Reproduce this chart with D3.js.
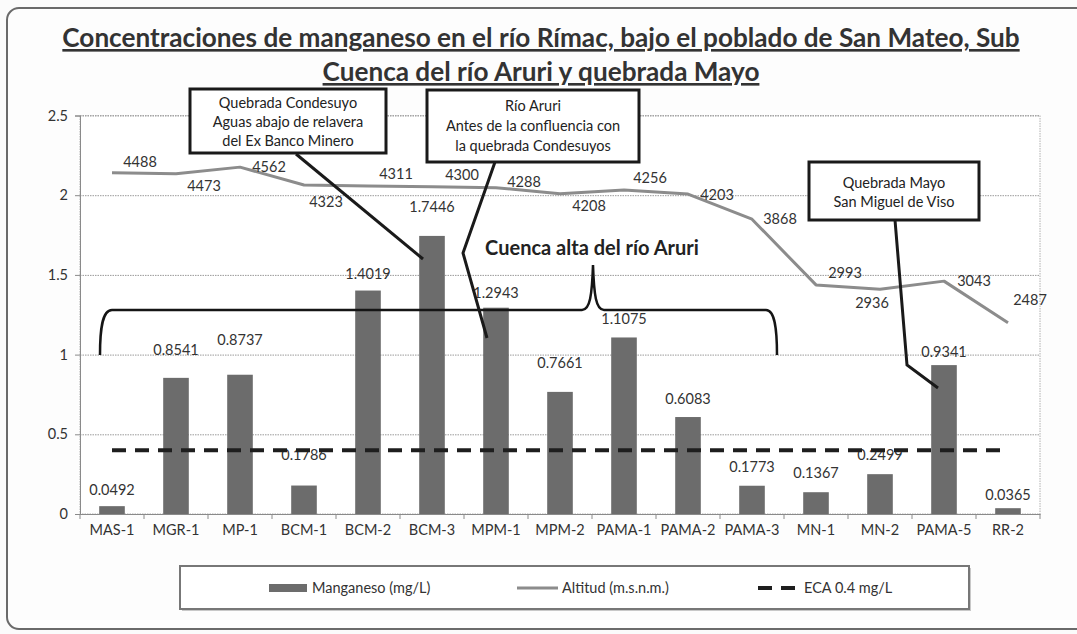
<!DOCTYPE html>
<html><head><meta charset="utf-8">
<script src="https://cdn.jsdelivr.net/npm/d3@7"></script>
<style>
html,body{margin:0;padding:0;background:#fbfbfb;}
svg{display:block;font-family:Lato,"Noto Sans",sans-serif;}
</style></head>
<body>
<svg id="chart" width="1077" height="634"></svg>
<script>
// ---------- data ----------
const categories = ["MAS-1","MGR-1","MP-1","BCM-1","BCM-2","BCM-3","MPM-1","MPM-2","PAMA-1","PAMA-2","PAMA-3","MN-1","MN-2","PAMA-5","RR-2"];
const manganeso = [0.0492,0.8541,0.8737,0.1786,1.4019,1.7446,1.2943,0.7661,1.1075,0.6083,0.1773,0.1367,0.2499,0.9341,0.0365];
const altitud = [4488,4473,4562,4323,4311,4300,4288,4208,4256,4203,3868,2993,2936,3043,2487];
const eca = 0.4;
const yTicks = [0,0.5,1,1.5,2,2.5];
const titleLines = ["Concentraciones de manganeso en el río Rímac, bajo el poblado de San Mateo, Sub","Cuenca del río Aruri y quebrada Mayo"];
const legendLabels = ["Manganeso (mg/L)","Altitud (m.s.n.m.)","ECA 0.4 mg/L"];
const braceLabel = "Cuenca  alta del río Aruri";
const calloutTexts = [
  ["Quebrada Condesuyo","Aguas abajo de relavera","del Ex Banco Minero"],
  ["Río Aruri","Antes de la confluencia con","la quebrada Condesuyos"],
  ["Quebrada Mayo","San Miguel de Viso"]
];

// ---------- layout / style (not data) ----------
const barLabelLift = [16,28,35,31,17,29,15,29,18,18,19,19,19,13,13];
const altLabelDx = [28,28,29,22,28,30,28,29,26,29,28,29,-8,30,22];
const altLabelDy = [-11,12,0,17,-12,-12,-6,12,-12,1,0,-12,14,0,-23];
const FS = 14.5;

const svg = d3.select("#chart");
const plot = {x0:80, x1:1040, y0:115.5, y1:514};

// outer frame
svg.append("rect").attr("x",7).attr("y",8).attr("width",1100).attr("height",621)
  .attr("rx",12).attr("fill","#fdfdfd").attr("stroke","#6a6a6a").attr("stroke-width",2);

const x = d3.scaleBand().domain(categories).range([plot.x0,plot.x1]).paddingInner(0.6).paddingOuter(0.3);
const xc = d => x(d) + x.bandwidth()/2;
const y = d3.scaleLinear().domain([0,2.5]).range([plot.y1,plot.y0]);
const y2 = d3.scaleLinear().domain([-60,5250]).range([plot.y1,plot.y0]);

// plot area
svg.append("rect").attr("x",plot.x0).attr("y",plot.y0).attr("width",plot.x1-plot.x0).attr("height",plot.y1-plot.y0)
  .attr("fill","#ffffff").attr("stroke","#b0b0b0").attr("stroke-width",1).attr("stroke-dasharray","1.5,1");

// gridlines
const yAxisG = svg.append("g").attr("transform",`translate(${plot.x0},0)`)
  .call(d3.axisLeft(y).tickValues(yTicks).tickSize(-(plot.x1-plot.x0)).tickFormat(d3.format("")).tickPadding(12));
yAxisG.select(".domain").remove();
yAxisG.selectAll(".tick line").attr("stroke","#9a9a9a").attr("stroke-dasharray","1.5,1");
yAxisG.selectAll(".tick text").attr("font-family","Lato,sans-serif").attr("font-size",FS).attr("fill","#333");
const yTickG = svg.append("g").attr("transform",`translate(${plot.x0},0)`)
  .call(d3.axisLeft(y).tickValues(yTicks).tickSize(5).tickFormat(""));
yTickG.select(".domain").attr("stroke","#8a8a8a");
yTickG.selectAll(".tick line").attr("stroke","#8a8a8a");

// x axis
const xAxisG = svg.append("g").attr("transform",`translate(0,${plot.y1})`)
  .call(d3.axisBottom(x).tickSize(0).tickPadding(11));
xAxisG.select(".domain").attr("stroke","#8a8a8a");
xAxisG.selectAll(".tick text").attr("font-family","Lato,sans-serif").attr("font-size",FS).attr("fill","#333");
const bounds = d3.range(categories.length+1).map(i => plot.x0 + i*x.step());
svg.append("g").selectAll("line").data(bounds).join("line")
  .attr("x1",d=>d).attr("x2",d=>d).attr("y1",plot.y1).attr("y2",plot.y1+5).attr("stroke","#8a8a8a");

// bars
svg.append("g").selectAll("rect").data(manganeso).join("rect")
  .attr("x",(d,i)=>x(categories[i])).attr("width",x.bandwidth())
  .attr("y",d=>y(d)).attr("height",d=>plot.y1-y(d)).attr("fill","#6c6c6c");

// bar labels
svg.append("g").selectAll("text").data(manganeso).join("text")
  .attr("x",(d,i)=>xc(categories[i])).attr("y",(d,i)=>y(d)-barLabelLift[i]+5)
  .attr("text-anchor","middle").attr("font-size",FS).attr("fill","#333").text(d=>d3.format(".4f")(d));

// ECA line
svg.append("path").datum(categories)
  .attr("d",d3.line().x(d=>xc(d)).y(()=>y(eca)))
  .attr("fill","none").attr("stroke","#1e1e1e").attr("stroke-width",4).attr("stroke-dasharray","14,9");

// altitude line
svg.append("path").datum(altitud)
  .attr("d",d3.line().x((d,i)=>xc(categories[i])).y(d=>y2(d)))
  .attr("fill","none").attr("stroke","#8c8c8c").attr("stroke-width",3).attr("stroke-linejoin","round");
svg.append("g").selectAll("text").data(altitud).join("text")
  .attr("x",(d,i)=>xc(categories[i])+altLabelDx[i]).attr("y",(d,i)=>y2(d)+altLabelDy[i]+5)
  .attr("text-anchor","middle").attr("font-size",FS).attr("fill","#333").text(d=>d);

// brace
const brace = "M100,355 C100,330 102,310 112,310 L582,310 C590,310 592,295 593,265 C594,295 596,310 604,310 L766,310 C775,310 777,330 777,355";
svg.append("path").attr("d",brace).attr("fill","none").attr("stroke","#151515").attr("stroke-width",2.5);
svg.append("text").attr("x",592).attr("y",255).attr("text-anchor","middle")
  .attr("font-weight","bold").attr("font-size",20).attr("fill","#222").text(braceLabel);

// callouts
const callouts = [
  {box:[190,89,386,153], lines:[103,122,141], leader:[[296,154],[423,259]]},
  {box:[427,90,639,162], lines:[106,126,146], leader:[[495,162],[463,253],[487,338]]},
  {box:[809,162,979,220], lines:[183,202], leader:[[895,220],[907,365],[938,388]]}
];
callouts.forEach((c,k)=>{
  svg.append("path").attr("d",d3.line()(c.leader)).attr("fill","none").attr("stroke","#1a1a1a").attr("stroke-width",3);
  svg.append("rect").attr("x",c.box[0]).attr("y",c.box[1]).attr("width",c.box[2]-c.box[0]).attr("height",c.box[3]-c.box[1])
    .attr("fill","#ffffff").attr("stroke","#1a1a1a").attr("stroke-width",3);
  calloutTexts[k].forEach((t,j)=>{
    svg.append("text").attr("x",(c.box[0]+c.box[2])/2).attr("y",c.lines[j]+5).attr("text-anchor","middle")
      .attr("font-size",FS).attr("fill","#222").text(t);
  });
});

// title
let titleFs = 22;
const titleBase = [47,81];
titleLines.forEach((t,i)=>{
  const tx = svg.append("text").attr("x",541).attr("y",titleBase[i]).attr("text-anchor","middle")
    .attr("font-weight","bold").attr("font-size",22).attr("fill","#333").attr("text-decoration","underline").text(t);
  if(i===0){
    const w = tx.node().getComputedTextLength();
    titleFs = 22*958/w;
  }
  tx.attr("font-size",titleFs);
});

// legend
svg.append("rect").attr("x",182).attr("y",568).attr("width",789).attr("height",43).attr("fill","#c8c8c8");
svg.append("rect").attr("x",180).attr("y",566).attr("width",789).attr("height",43)
  .attr("fill","#ffffff").attr("stroke","#777").attr("stroke-width",2);
const ly = 588;
svg.append("rect").attr("x",269).attr("y",ly-4).attr("width",38).attr("height",8).attr("fill","#6c6c6c");
svg.append("text").attr("x",312).attr("y",ly+5).attr("font-size",FS).attr("fill","#333").text(legendLabels[0]);
svg.append("line").attr("x1",517).attr("x2",558).attr("y1",ly).attr("y2",ly).attr("stroke","#8c8c8c").attr("stroke-width",3);
svg.append("text").attr("x",562).attr("y",ly+5).attr("font-size",FS).attr("fill","#333").text(legendLabels[1]);
svg.append("line").attr("x1",758).attr("x2",797).attr("y1",ly).attr("y2",ly).attr("stroke","#1e1e1e").attr("stroke-width",4).attr("stroke-dasharray","14,9");
svg.append("text").attr("x",804).attr("y",ly+5).attr("font-size",FS).attr("fill","#333").text(legendLabels[2]);
</script>
</body></html>
